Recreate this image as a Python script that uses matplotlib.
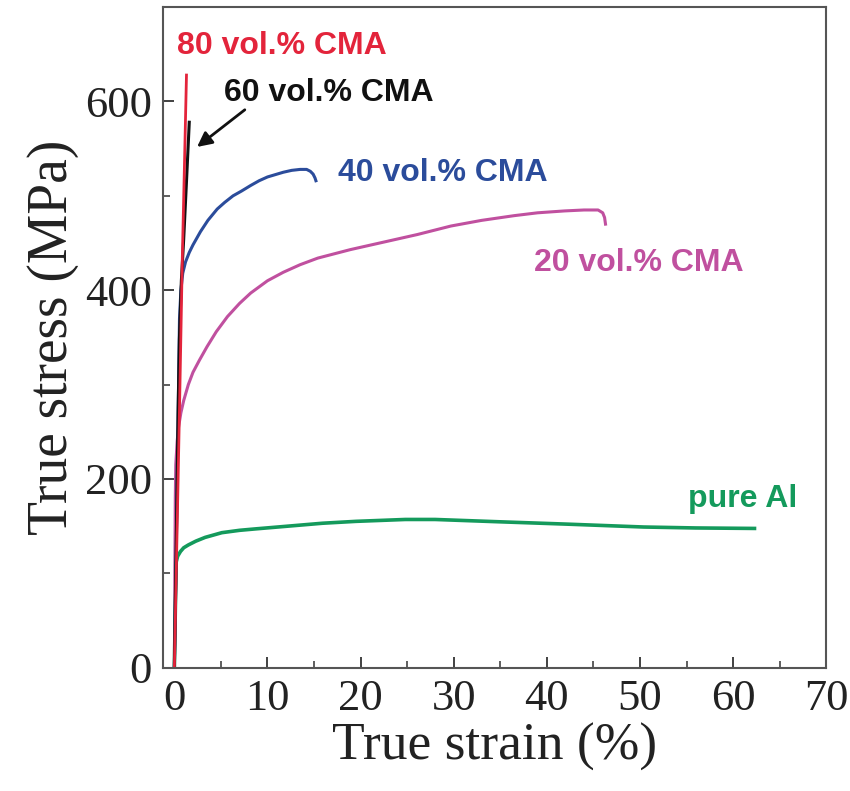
import numpy as np
import matplotlib.pyplot as plt

# Datos (deformación %, tensión MPa)
strain_80 = [0.0, 0.3, 0.6, 0.85, 1.1, 1.3]
stress_80 = [0, 150, 300, 433, 540, 628]

strain_60 = [0.0, 0.2, 0.4, 0.54, 0.75, 1.0, 1.3, 1.6]
stress_60 = [0, 130, 270, 348, 410, 454, 515, 578]

strain_40 = [0.0, 0.2, 0.3, 0.45, 0.55, 0.7, 0.9, 1.2, 1.6, 2.0, 2.8, 3.6, 4.6, 5.4, 6.3, 7.2, 8.2,
             9.1, 10.0, 11.7, 12.6, 13.5, 14.2, 14.6, 14.9, 15.1, 15.2]
stress_40 = [0, 120, 200, 300, 370, 400, 418, 430, 440, 448, 462, 474, 486, 493, 500, 505, 511,
             516, 520, 525, 527, 528, 528, 526, 523, 519, 516]

strain_20 = [0.0, 0.05, 0.1, 0.15, 0.3, 0.45, 0.7, 1.0, 1.5, 2.0, 2.7, 3.5, 4.5, 5.7, 7.0, 8.2, 10.0,
             11.7, 13.5, 15.4, 18.9, 22.5, 26.1, 29.7, 33.0, 36.5, 39.0, 41.9, 44.0, 45.5, 46.0, 46.2, 46.3]
stress_20 = [0, 100, 180, 215, 240, 255, 270, 283, 300, 313, 326, 340, 356, 372, 386, 397, 410,
             419, 427, 434, 443, 451, 459, 468, 474, 479, 482, 484, 485, 485, 482, 477, 470]

strain_al = [0.0, 0.1, 0.2, 0.35, 0.65, 1.0, 1.5, 2.3, 3.3, 5.1, 7.0, 8.7, 12.3, 15.9, 19.5, 24.8,
             28.0, 35.0, 42.3, 50.4, 56.0, 62.3]
stress_al = [0, 60, 112, 118, 123, 127, 130, 134, 138, 143, 145.5, 147, 150, 153, 155, 157,
             157, 154.5, 152, 149, 148, 147.5]

etiquetas = ['80 vol.% CMA', '60 vol.% CMA', '40 vol.% CMA', '20 vol.% CMA', 'pure Al']
colores = ['#e3243b', '#111111', '#2b4c9b', '#c0509f', '#149a5c']
pos_etiquetas = [(0.3, 650), (5.3, 600), (17.6, 516), (38.6, 420), (55.2, 170)]

fig = plt.figure(figsize=(8.5, 7.91), dpi=100)
ax = fig.add_axes([0.192, 0.156, 0.780, 0.835])

ax.plot(strain_20, stress_20, color=colores[3], lw=2.2)
ax.plot(strain_al, stress_al, color=colores[4], lw=2.6)
ax.plot(strain_40, stress_40, color=colores[2], lw=2.2)
ax.plot(strain_60, stress_60, color=colores[1], lw=2.2)
ax.plot(strain_80, stress_80, color=colores[0], lw=2.0)

for texto, color, (x, y) in zip(etiquetas, colores, pos_etiquetas):
    ax.text(x, y, texto, color=color, fontsize=23, fontweight='bold',
            family='Liberation Sans', ha='left', va='baseline')

# Flecha que señala la curva de 60 vol.%
ax.annotate('', xy=(2.2, 550), xytext=(7.8, 593),
            arrowprops=dict(arrowstyle='-|>', color='#111111', lw=2, mutation_scale=22))

ax.set_xlim(-1.2, 70)
ax.set_ylim(0, 700)
ax.set_xticks(np.arange(0, 71, 10))
ax.set_xticks(np.arange(5, 70, 10), minor=True)
ax.set_yticks(np.arange(0, 601, 200))
ax.set_yticks(np.arange(100, 700, 200), minor=True)
ax.tick_params(which='both', direction='in', color='#333333')
ax.tick_params(which='major', length=8, width=1.3, labelsize=32, pad=8)
ax.tick_params(which='minor', length=5, width=1.1)
for lbl in ax.get_xticklabels() + ax.get_yticklabels():
    lbl.set_family('Liberation Serif')
    lbl.set_color('#222222')
for sp in ax.spines.values():
    sp.set_color('#555555')
    sp.set_linewidth(1.5)

ax.set_xlabel('True strain (%)', fontsize=38.5, family='Liberation Serif', color='#222222', labelpad=3)
ax.set_ylabel('True stress (MPa)', fontsize=40, family='Liberation Serif', color='#222222', labelpad=4)

fig.savefig('out.png', dpi=100)
